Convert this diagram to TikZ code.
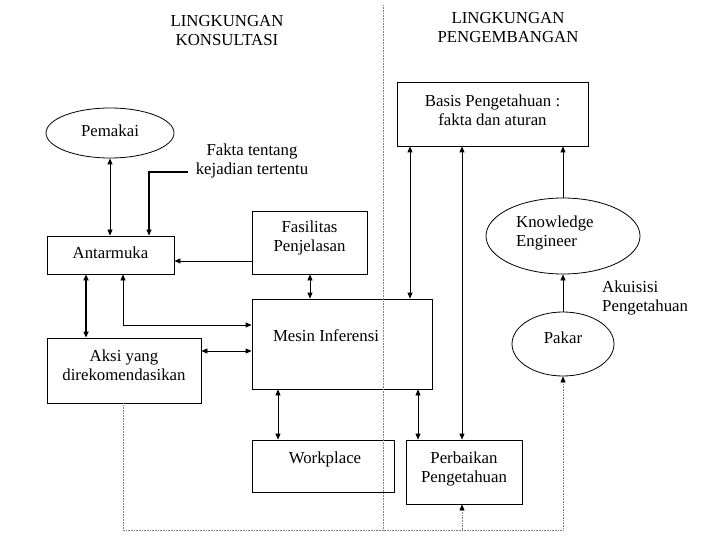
\documentclass[tikz,border=0pt]{standalone}
\usepackage{fontspec}
\setmainfont{Liberation Serif}
\usetikzlibrary{arrows.meta,shapes.geometric}
\begin{document}
\begin{tikzpicture}[x=1pt,y=-1pt,
  >={Triangle[length=6pt,width=5pt]},
  every node/.style={font=\fontsize{16.8}{19}\selectfont},
  box/.style={draw,line width=0.8pt,inner sep=0pt},
  oval/.style={draw,ellipse,line width=0.8pt,inner sep=0pt},
  txt/.style={align=center,inner sep=0pt},
  conn/.style={line width=0.8pt},
  dots/.style={gray,densely dotted,line width=0.6pt}]
\useasboundingbox (0,0) rectangle (720,540);
% headers
\node[txt] (h1) at (227,31) {LINGKUNGAN\\KONSULTASI};
\node[txt] (h2) at (508,28) {LINGKUNGAN\\PENGEMBANGAN};
% boxes
\node[box,minimum width=191,minimum height=64] (basis) at (492.5,114) {};
\node[txt] (basist) at (492.5,110) {Basis Pengetahuan :\\fakta dan aturan};
\node[oval,minimum width=128,minimum height=50] (pemakai) at (110,133) {};
\node[txt] (pemakait) at (110,131) {Pemakai};
\node[txt] (fakta) at (252,161) {Fakta tentang\\kejadian tertentu};
\node[box,minimum width=127,minimum height=38] (antar) at (110.5,255) {};
\node[txt] (antart) at (110.5,253) {Antarmuka};
\node[box,minimum width=115,minimum height=63] (fas) at (309.5,242.5) {};
\node[txt] (fast) at (309.5,238) {Fasilitas\\Penjelasan};
\node[box,minimum width=180,minimum height=90] (mesin) at (342,344) {};
\node[txt] (mesint) at (326,336) {Mesin Inferensi};
\node[box,minimum width=154,minimum height=65] (aksi) at (124,370.5) {};
\node[txt] (aksit) at (124,365) {Aksi yang\\direkomendasikan};
\node[box,minimum width=142,minimum height=52] (work) at (323,466) {};
\node[txt] (workt) at (325,459) {Workplace};
\node[box,minimum width=116,minimum height=64] (perb) at (464,472) {};
\node[txt] (perbt) at (464,469) {Perbaikan\\Pengetahuan};
\node[oval,minimum width=154,minimum height=76] (ke) at (563,236) {};
\node[txt,align=left,anchor=west] (ket) at (516,233) {Knowledge\\Engineer};
\node[oval,minimum width=102,minimum height=64] (pakar) at (563,344) {};
\node[txt] (pakart) at (563,338) {Pakar};
\node[txt,align=left,anchor=west] (akuisisi) at (602,298) {Akuisisi\\Pengetahuan};
% dividing line
\coordinate (dtop) at (383,5);
\coordinate (dbot) at (383,530);
\draw[dots] (dtop) -- (dbot);
% connectors
\draw[conn,<->] (pemakai.south) -- (antar.north -| pemakai.south);
\coordinate (fk) at (188,172);
\draw[conn,->,line width=1.2pt] (fk) -| (antar.north -| 149,0);
\draw[conn,->] (fas.west |- 0,261) -- (antar.east |- 0,261);
\draw[conn,<->] (fas.south -| 310,0) -- (mesin.north -| 310,0);
\draw[conn,<->,line width=1.5pt] (antar.south -| 86,0) -- (aksi.north -| 86,0);
\draw[conn,<->] (antar.south -| 123,0) |- (mesin.west |- 0,325);
\draw[conn,<->] (aksi.east |- 0,351) -- (mesin.west |- 0,351);
\draw[conn,<->] (mesin.south -| 278,0) -- (work.north -| 278,0);
\draw[conn,<->] (mesin.south -| 418,0) -- (perb.north -| 418,0);
\draw[conn,<->] (basis.south -| 410,0) -- (mesin.north -| 410,0);
\draw[conn,<->] (basis.south -| 462,0) -- (perb.north -| 462,0);
\draw[conn,->] (ke.north) -- (basis.south -| ke.north);
\draw[conn,->] (pakar.north) -- (ke.south);
% dotted feedback
\coordinate (bl) at (123,530);
\coordinate (bm) at (462,530);
\draw[dots,->,arrows={-Triangle[length=6pt,width=5pt,black]}] (aksi.south -| bl) -- (bl) -| (pakar.south);
\draw[dots,arrows={-Triangle[length=6pt,width=5pt,black]}] (bm) -- (perb.south -| bm);
\end{tikzpicture}
\end{document}
